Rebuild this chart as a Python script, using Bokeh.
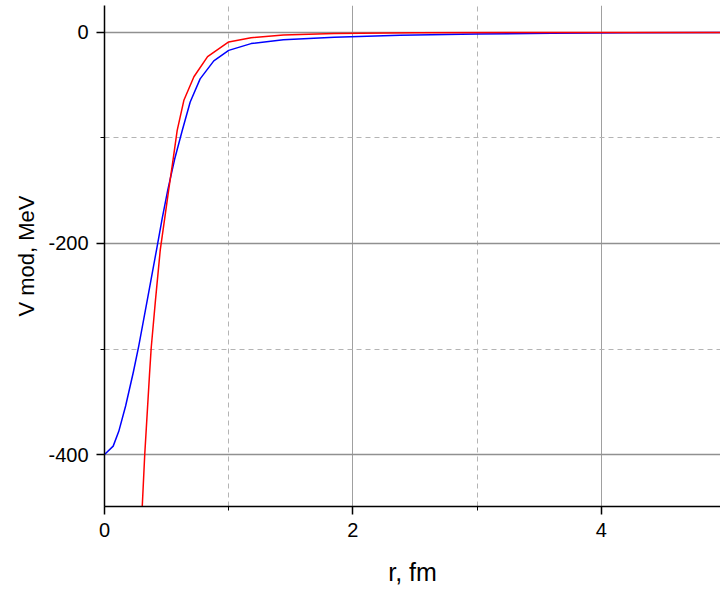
from bokeh.plotting import figure
from bokeh.models import Range1d, SingleIntervalTicker, LinearAxis, Grid, PrintfTickFormatter
from bokeh.embed import file_html
from bokeh.resources import INLINE

# Data
blue_r = [0, 0.07, 0.115, 0.17, 0.232, 0.276, 0.35, 0.419, 0.465, 0.51, 0.565, 0.626,
          0.69, 0.77, 0.88, 1.0, 1.18, 1.44, 1.85, 2.38, 3.0, 3.6, 4.2, 4.96]
blue_v = [-400, -392, -378, -354, -322, -297, -250, -206, -176, -149, -120, -93,
          -66, -44, -27, -17, -10.6, -6.9, -4.5, -2.6, -1.5, -0.8, -0.4, -0.2]

red_r = [0.29, 0.304, 0.324, 0.362, 0.376, 0.411, 0.449, 0.491, 0.516, 0.548, 0.585,
         0.64, 0.72, 0.83, 1.0, 1.18, 1.44, 1.85, 2.5, 3.5, 4.96]
red_v = [-480, -449, -400, -325, -299, -253, -206, -171, -150, -124, -93,
         -64, -42, -23, -9, -5, -2.5, -1, -0.3, -0.1, 0]

x_label = "r, fm"
y_label = "V mod, MeV"

FONT = "Liberation Sans"

p = figure(width=720, height=588, output_backend="svg", toolbar_location=None,
           x_range=Range1d(0, 4.96), y_range=Range1d(-449.2, 25.5),
           x_axis_type=None, y_axis_type=None,
           min_border_left=104, min_border_right=0, min_border_top=5, min_border_bottom=81)
p.outline_line_color = None
p.background_fill_color = "white"
p.border_fill_color = "white"

xaxis = LinearAxis(ticker=SingleIntervalTicker(interval=2, num_minor_ticks=2),
                   formatter=PrintfTickFormatter(format="%d"))
yaxis = LinearAxis(ticker=SingleIntervalTicker(interval=200, num_minor_ticks=2),
                   formatter=PrintfTickFormatter(format="%d"))
p.add_layout(xaxis, "below")
p.add_layout(yaxis, "left")

for ax in (xaxis, yaxis):
    ax.axis_line_color = "black"
    ax.axis_line_width = 1.5
    ax.major_tick_line_color = "black"
    ax.major_tick_line_width = 1.5
    ax.minor_tick_line_color = "black"
    ax.minor_tick_line_width = 1
    ax.major_tick_in = 0
    ax.major_tick_out = 8
    ax.minor_tick_in = 0
    ax.minor_tick_out = 4
    ax.major_label_text_font = FONT
    ax.major_label_text_font_size = "20px"
    ax.major_label_text_color = "black"
    ax.major_label_standoff = 8
    ax.axis_label_text_font = FONT
    ax.axis_label_text_font_style = "normal"
    ax.axis_label_text_color = "black"

xaxis.axis_label = x_label
yaxis.axis_label = y_label
xaxis.axis_label_text_font_size = "25px"
yaxis.axis_label_text_font_size = "22px"
xaxis.axis_label_standoff = 18
yaxis.axis_label_standoff = 6

xgrid = Grid(dimension=0, ticker=xaxis.ticker,
             grid_line_color="#a0a0a0", grid_line_width=1,
             minor_grid_line_color="#b4b4b4", minor_grid_line_width=1,
             minor_grid_line_dash="5 4")
ygrid = Grid(dimension=1, ticker=yaxis.ticker,
             grid_line_color="#909090", grid_line_width=1.5,
             minor_grid_line_color="#b4b4b4", minor_grid_line_width=1,
             minor_grid_line_dash="5 4")
p.add_layout(xgrid)
p.add_layout(ygrid)

p.line(blue_r, blue_v, line_color="#0000ff", line_width=1.5)
p.line(red_r, red_v, line_color="#ff0000", line_width=1.5)

open("out.html", "w").write(file_html(p, INLINE))
